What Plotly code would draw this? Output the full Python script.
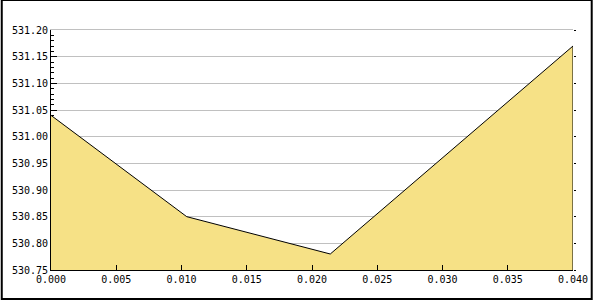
import plotly.graph_objects as go

x_vals = [0.0, 0.0104, 0.0214, 0.040]
y_vals = [531.04, 530.85, 530.78, 531.17]
y_min, y_max = 530.75, 531.20
x_min, x_max = 0.0, 0.040

L, R, T, B = 50, 20, 30, 30
W, H = 600, 300
pw, ph = W - L - R, H - T - B

font = dict(family="DejaVu Sans Mono", size=10, color="black")

fig = go.Figure()
fig.add_trace(go.Scatter(
    x=x_vals + [x_vals[-1]], y=y_vals + [y_min],
    mode="lines", fill="tozeroy", fillcolor="#f6e186",
    line=dict(color="black", width=1), hoverinfo="skip", showlegend=False,
    cliponaxis=False,
))
fig.add_trace(go.Scatter(
    x=[x_vals[0]], y=[y_vals[0]], xaxis="x2", yaxis="y2", mode="markers",
    marker=dict(opacity=0), hoverinfo="skip", showlegend=False,
))

fig.update_layout(
    width=W, height=H, autosize=False,
    margin=dict(l=L, r=R, t=T, b=B, pad=0),
    paper_bgcolor="white", plot_bgcolor="white",
    font=font,
    xaxis=dict(
        range=[x_min, x_max], dtick=0.005, tick0=0, tickformat=".3f",
        showgrid=False, zeroline=False, showline=True, linecolor="black", linewidth=1,
        ticks="inside", ticklen=5, tickcolor="black", tickfont=font,
    ),
    xaxis2=dict(
        range=[x_min, x_max], overlaying="x", side="top", anchor="y2",
        showticklabels=False, showgrid=False, zeroline=False, ticks="",
        showline=True, linecolor="#c0c0c0", linewidth=1,
    ),
    yaxis=dict(
        range=[y_min, y_max], dtick=0.05, tick0=530.75, tickformat=".2f",
        showgrid=True, gridcolor="#c0c0c0", gridwidth=1, zeroline=False,
        showline=True, linecolor="black", linewidth=1,
        ticks="inside", ticklen=6, tickcolor="black", tickfont=font,
        minor=dict(dtick=0.01, ticks="inside", ticklen=3, tickcolor="black", showgrid=False),
        layer="below traces",
    ),
    yaxis2=dict(
        range=[y_min, y_max], dtick=0.05, tick0=530.75, overlaying="y", side="right",
        anchor="x2",
        showticklabels=False, showgrid=False, zeroline=False, showline=False,
        ticks="outside", ticklen=2, tickcolor="black",
    ),
    shapes=[dict(
        type="rect", xref="paper", yref="paper",
        x0=-L / pw, x1=(W - 1 - L) / pw,
        y0=(H - B - (H - 1)) / ph, y1=(H - B) / ph,
        line=dict(color="black", width=2), fillcolor="rgba(0,0,0,0)", layer="above",
    )],
)

fig.write_html("out.html", config={"displayModeBar": False, "responsive": False})
